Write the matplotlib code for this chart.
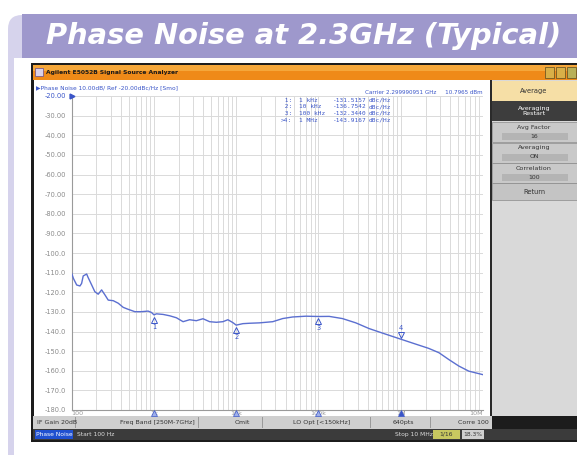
import matplotlib
matplotlib.use("Agg")
import matplotlib.pyplot as plt
import matplotlib.transforms as mtransforms
from matplotlib.patches import Rectangle, FancyBboxPatch
from matplotlib.ticker import FixedLocator, NullFormatter

# ---------------- data ----------------
freq_hz = [100, 105, 115, 126, 132, 138, 152, 158, 175, 191, 210, 231, 254, 278,
           320, 368, 423, 486, 586, 705, 849, 933, 1000, 1072, 1291, 1556, 1875,
           2259, 2716, 3273, 3945, 4753, 5728, 6887, 7925, 9120, 10000, 12050,
           14520, 19140, 27800, 36730, 48530, 70470, 100000, 134900, 195000,
           284400, 412100, 598400, 1000000, 1514000, 2188000, 2911000, 3846000,
           5082000, 6714000, 10000000]
noise_dbc = [-110.4, -113.0, -116.3, -116.8, -115.5, -111.7, -110.7, -112.4, -116.3,
             -119.7, -121.0, -118.8, -121.4, -124.0, -124.3, -125.6, -127.7, -128.7,
             -129.9, -129.9, -129.6, -130.3, -131.5, -131.0, -131.3, -132.0, -133.0,
             -135.0, -134.0, -134.5, -133.5, -135.0, -135.3, -135.0, -134.0, -135.5,
             -136.75, -136.0, -135.8, -135.6, -135.0, -133.4, -132.6, -132.2, -132.35,
             -132.3, -133.4, -135.6, -138.5, -140.8, -143.9, -146.4, -148.6, -150.8,
             -154.3, -157.6, -160.2, -162.0]

marker_ids = ["1", "2", "3", "4"]
marker_freq = [1e3, 1e4, 1e5, 1e6]
marker_freq_labels = ["1 kHz", "10 kHz", "100 kHz", "1 MHz"]
marker_vals = [-131.5157, -136.7542, -132.3440, -143.9167]

y_ticks = [-20, -30, -40, -50, -60, -70, -80, -90, -100, -110, -120, -130,
           -140, -150, -160, -170, -180]
y_tick_labels = ["-20.00", "-30.00", "-40.00", "-50.00", "-60.00", "-70.00",
                 "-80.00", "-90.00", "-100.0", "-110.0", "-120.0", "-130.0",
                 "-140.0", "-150.0", "-160.0", "-170.0", "-180.0"]
x_ticks = [1e2, 1e3, 1e4, 1e5, 1e6, 1e7]
x_tick_labels = ["100", "1k", "10k", "100k", "1M", "10M"]

title = "Phase Noise at 2.3GHz (Typical)"
window_title = "Agilent E5052B Signal Source Analyzer"
trace_header = "Phase Noise 10.00dB/ Ref -20.00dBc/Hz [Smo]"
carrier_text = "Carrier 2.299990951 GHz     10.7965 dBm"
status_row1 = [("IF Gain 20dB", 37), ("Freq Band [250M-7GHz]", 120), ("Omit", 235),
               ("LO Opt [<150kHz]", 293), ("640pts", 393), ("Corre 100", 458)]
softkeys = ["Average", "Averaging\nRestart", "Avg Factor", "Averaging",
            "Correlation", "Return"]
softkey_values = ["16", "ON", "100"]

# ---------------- figure ----------------
W, H = 577, 455
fig = plt.figure(figsize=(W / 100, H / 100), dpi=100)
fig.patch.set_facecolor("white")

bg = fig.add_axes([0, 0, 1, 1])
bg.set_xlim(0, W)
bg.set_ylim(H, 0)
bg.axis("off")

def rect(x0, y0, x1, y1, fc, ec="none", lw=0, z=1):
    bg.add_patch(Rectangle((x0, y0), x1 - x0, y1 - y0, facecolor=fc,
                           edgecolor=ec, linewidth=lw, zorder=z))

def ftext(x, y, s, **kw):
    """text placed in picture pixels, drawn above every axes"""
    kw.setdefault("zorder", 20)
    return fig.text(x / W, 1 - y / H, s, **kw)

# lavender decoration
bg.add_patch(FancyBboxPatch((8, 15), 40, 470, boxstyle="round,pad=0,rounding_size=14",
                            facecolor="#d6d3ec", edgecolor="none", zorder=1))
rect(13.5, 58, 60, 455, "white", z=1.5)
rect(22, 14, 577, 58, "#9e98cc", z=2)
bg.text(304, 36, title, ha="center", va="center", color="white", fontsize=20.8,
        fontweight="heavy", fontstyle="italic", family="DejaVu Sans", zorder=3)

# window frame
rect(31, 63, 577, 442, "#1c1c1c", z=2)
rect(33, 65, 577, 80, "#ef8a18", z=3)
rect(33, 65, 577, 71, "#f5a73a", z=3)
rect(35, 68, 43, 76, "#d9d0e8", ec="#6a4a8a", lw=0.5, z=4)
bg.text(46, 72.5, window_title, ha="left", va="center", fontsize=4.3,
        fontweight="bold", color="#1a1a1a", zorder=4)
for i, c in enumerate(["#d8b048", "#d8b048", "#b8b058"]):
    rect(545 + i * 11, 67, 554 + i * 11, 78, c, ec="#5a4a20", lw=0.5, z=4)

# white plot panel
rect(34, 80, 490, 416, "white", z=3)
ftext(36, 87.5, "\u25B6" + trace_header, ha="left", va="center", fontsize=4.2,
      color="#3a55c8")
ftext(483, 92.5, carrier_text, ha="right", va="center", fontsize=4.1,
      color="#3a55c8")

# right softkey panel
rect(490, 80, 577, 416, "#d9d9d9", z=3)
rect(490, 80, 492, 416, "#2a2a2a", z=4)
rect(492, 81, 577, 101, "#f6dfa6", z=4)
bg.text(534, 91, softkeys[0], ha="center", va="center", fontsize=4.8, color="#333", zorder=5)
rect(492, 101, 577, 121, "#3d3d3d", z=4)
bg.text(534, 111, softkeys[1], ha="center", va="center", fontsize=4.6, color="white",
        linespacing=1.2, zorder=5)
ytop = 122
for name, val in zip(softkeys[2:5], softkey_values):
    rect(492, ytop, 577, ytop + 20, "#c9c9c9", ec="#8a8a8a", lw=0.5, z=4)
    bg.text(534, ytop + 5.5, name, ha="center", va="center", fontsize=4.6,
            color="#333", zorder=5)
    rect(502, ytop + 11, 568, ytop + 18, "#b4b4b4", z=5)
    bg.text(534, ytop + 14.5, val, ha="center", va="center", fontsize=4.4,
            color="#333", zorder=6)
    ytop += 20.5
rect(492, 183, 577, 200, "#c4c4c4", ec="#8a8a8a", lw=0.5, z=4)
bg.text(534, 191.5, softkeys[5], ha="center", va="center", fontsize=4.8, color="#333", zorder=5)

# status bars
rect(33, 416, 492, 429, "#cfcfcf", z=3)
for name, x in status_row1:
    bg.text(x, 422.5, name, ha="left", va="center", fontsize=4.5, color="#333", zorder=5)
for xs in [75, 198, 262, 370, 430]:
    rect(xs, 417, xs + 0.8, 428, "#9a9a9a", z=4)
rect(33, 429, 577, 440, "#3b3b3b", z=3)
rect(35, 430, 73, 439, "#2050d0", z=4)
bg.text(36.5, 434.5, "Phase Noise", ha="left", va="center", fontsize=4.3, color="white", zorder=5)
bg.text(77, 434.5, "Start 100 Hz", ha="left", va="center", fontsize=4.3, color="#dddddd", zorder=5)
bg.text(395, 434.5, "Stop 10 MHz", ha="left", va="center", fontsize=4.3, color="#dddddd", zorder=5)
rect(433, 430, 460, 439, "#c8c860", z=4)
bg.text(446, 434.5, "1/16", ha="center", va="center", fontsize=4.3, color="#333", zorder=5)
rect(462, 430, 484, 439, "#d0d0d0", z=4)
bg.text(473, 434.5, "18.3%", ha="center", va="center", fontsize=4.3, color="#333", zorder=5)

# ---------------- the chart ----------------
L, R, T, B = 71.7, 483.0, 96.0, 410.0
ax = fig.add_axes([L / W, (H - B) / H, (R - L) / W, (B - T) / H])
ax.set_zorder(5)
ax.set_xscale("log")
ax.set_xlim(1e2, 1e7)
ax.set_ylim(-180, -20)
ax.patch.set_visible(False)

minor = [m * 10 ** e for e in range(2, 7) for m in range(2, 10)]
ax.xaxis.set_minor_locator(FixedLocator(minor))
ax.xaxis.set_minor_formatter(NullFormatter())
ax.set_xticks(x_ticks)
ax.set_xticklabels(x_tick_labels)
ax.set_yticks(y_ticks)
ax.set_yticklabels(y_tick_labels)
ax.grid(True, which="both", axis="x", color="#dadada", linewidth=0.7)
ax.grid(True, which="major", axis="y", color="#dadada", linewidth=0.7)
ax.tick_params(which="both", length=0)
ax.tick_params(axis="y", labelsize=4.8, labelcolor="#8a8a8a", pad=4)
ax.tick_params(axis="x", labelsize=4.6, labelcolor="#9a9a9a", pad=1)
ax.get_yticklabels()[0].set_color("#3a55c8")
for lbl, ha in zip(ax.get_xticklabels(), ["left"] + ["center"] * 4 + ["right"]):
    lbl.set_ha(ha)
for s in ax.spines.values():
    s.set_color("#9a9a9a")
    s.set_linewidth(0.8)
ax.spines["top"].set_visible(False)
ax.spines["right"].set_visible(False)

ax.plot(freq_hz, noise_dbc, color="#5b6fd0", linewidth=1.0, zorder=3)

# reference marker at -20
ax.plot([1e2], [-20], marker=">", color="#3a55c8", markersize=3.5, clip_on=False, zorder=4)

# marker table
rows_y = [100, 106.7, 113.4, 120.1]
mono = dict(ha="left", va="center", fontsize=4.4, family="DejaVu Sans Mono",
            color="#3a55c8")
for i, (mid, fl, v) in enumerate(zip(marker_ids, marker_freq_labels, marker_vals)):
    prefix = ">" if i == 3 else " "
    ftext(281, rows_y[i], f"{prefix}{mid}:", **mono)
    ftext(299, rows_y[i], fl, **mono)
    ftext(333, rows_y[i], f"{v:.4f}", **mono)
    ftext(369, rows_y[i], "dBc/Hz", **mono)

# markers on the trace
for i, (mid, f, v) in enumerate(zip(marker_ids, marker_freq, marker_vals)):
    if i < 3:
        tr = mtransforms.offset_copy(ax.transData, fig=fig, x=0, y=-3.6, units="points")
        ax.plot([f], [v], marker="^", mfc="none", mec="#3a55c8", markersize=4.5,
                mew=0.7, transform=tr, zorder=4)
        ax.annotate(mid, (f, v), xytext=(0, -8.5), textcoords="offset points",
                    ha="center", va="center", fontsize=4.8, color="#3a55c8", zorder=4)
    else:
        tr = mtransforms.offset_copy(ax.transData, fig=fig, x=0, y=3.3, units="points")
        ax.plot([f], [v], marker="v", mfc="none", mec="#3a55c8", markersize=4.5,
                mew=0.7, transform=tr, zorder=4)
        ax.annotate(mid, (f, v), xytext=(0, 8.3), textcoords="offset points",
                    ha="center", va="center", fontsize=4.8, color="#3a55c8", zorder=4)
    # marker flags on the bottom axis
    trb = mtransforms.offset_copy(ax.get_xaxis_transform(), fig=fig, x=0, y=-2.0,
                                  units="points")
    ax.plot([f], [0], marker="^", markersize=3.8, transform=trb, clip_on=False,
            mfc="#3a55c8" if i == 3 else "#9fb0ea", mec="#3a55c8", mew=0.5, zorder=6)

fig.savefig("out.png", dpi=100)
